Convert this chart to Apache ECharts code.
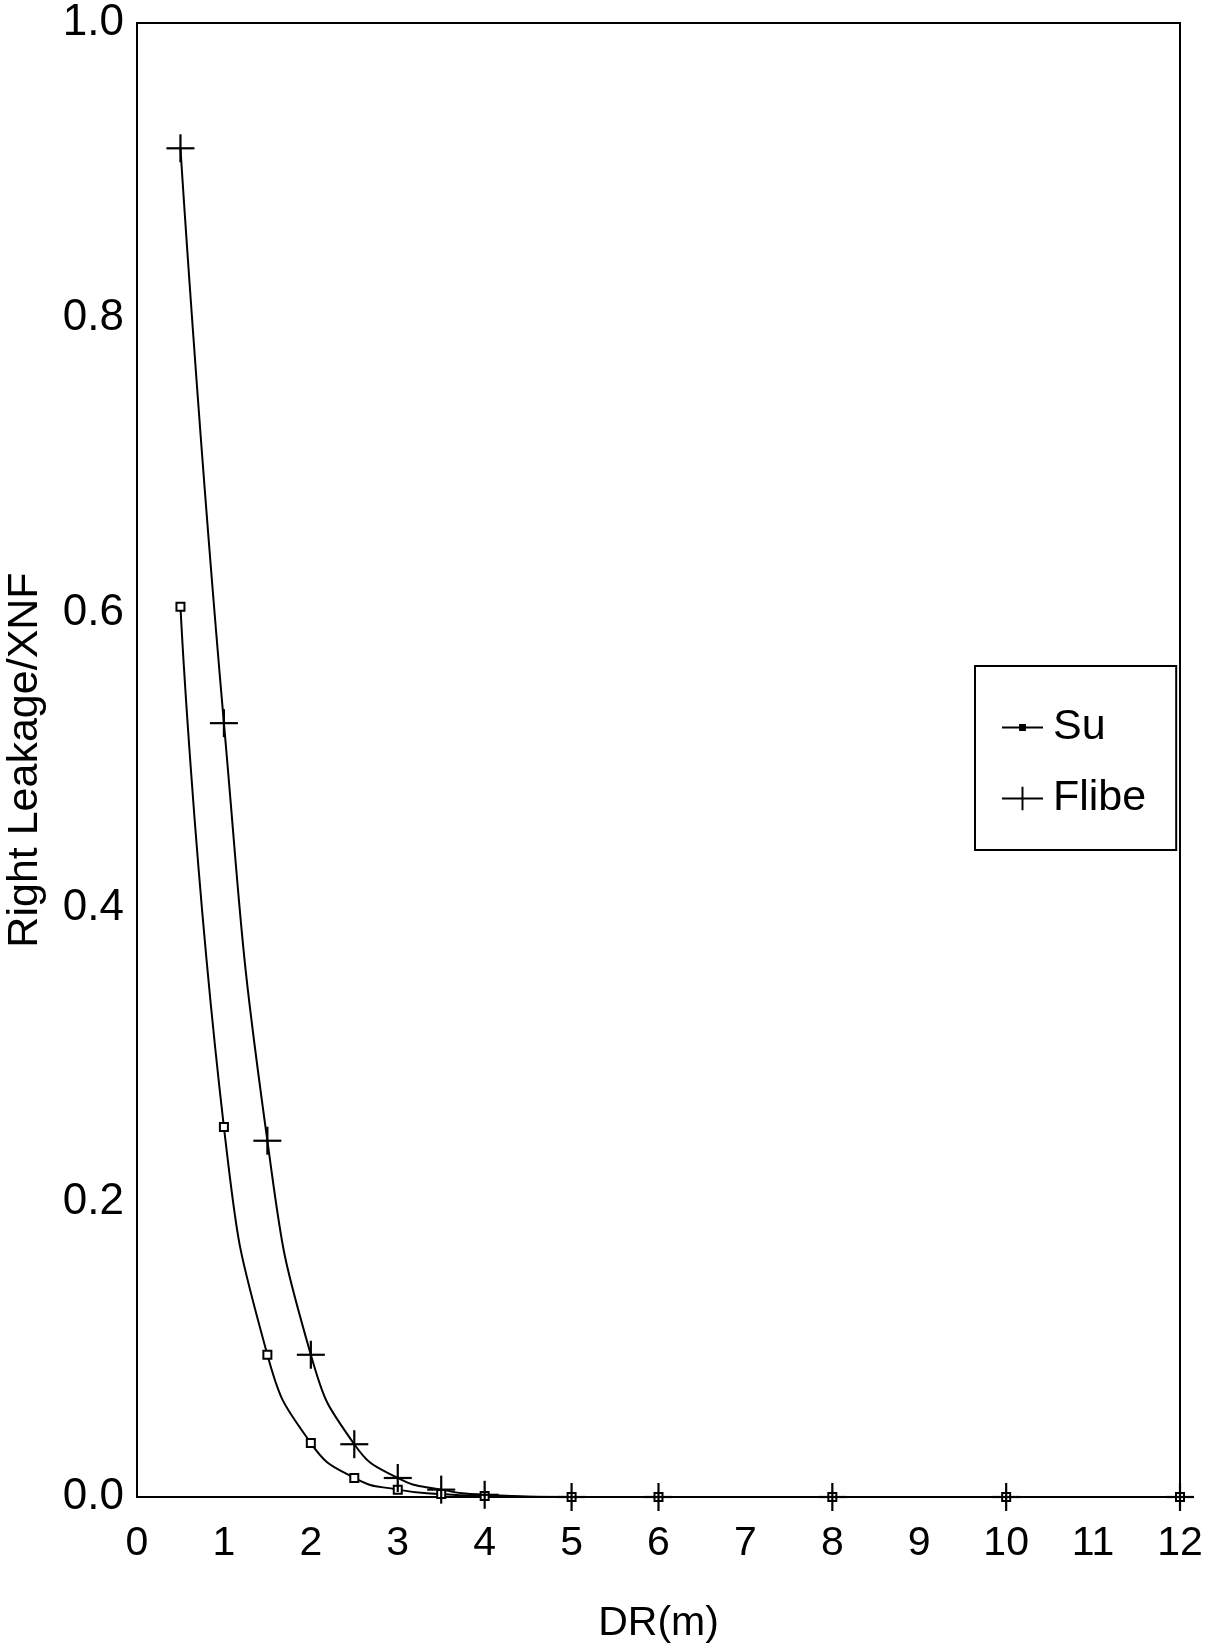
<!DOCTYPE html>
<html>
<head>
<meta charset="utf-8">
<script src="https://cdn.jsdelivr.net/npm/echarts@6/dist/echarts.min.js"></script>
<style>html,body{margin:0;padding:0;background:#fff;}#c{width:1222px;height:1652px;}</style>
</head>
<body>
<div id="c"></div>
<script>
var dr = [0.5, 1, 1.5, 2, 2.5, 3, 3.5, 4, 5, 6, 8, 10, 12];
var suValues = [0.604, 0.251, 0.0965, 0.0366, 0.0129, 0.005, 0.002, 0.0007, 0, 0, 0, 0, 0];
var flibeValues = [0.915, 0.525, 0.2417, 0.0965, 0.0358, 0.0129, 0.005, 0.0015, 0, 0, 0, 0, 0];
var xTicks = [0, 1, 2, 3, 4, 5, 6, 7, 8, 9, 10, 11, 12];
var yTicks = ['0.0', '0.2', '0.4', '0.6', '0.8', '1.0'];

function pairs(xs, ys) { return xs.map(function (x, i) { return [x, ys[i]]; }); }

var FONT = 'Liberation Sans';
var suIcon = 'path://M0,0 M42,28 M0,13 H42 V15 H0 Z M17.5,10.5 H24.5 V17.5 H17.5 Z';
var flibeIcon = 'path://M0,0 M42,28 M0,13 H42 V15 H0 Z M20,2 H22 V26 H20 Z';

function plusItem(params, api) {
  var p = api.coord([api.value(0), api.value(1)]);
  var h = 14;
  var st = { stroke: '#000', lineWidth: 2.2, fill: null };
  return {
    type: 'group',
    children: [
      { type: 'line', shape: { x1: p[0] - h, y1: p[1], x2: p[0] + h, y2: p[1] }, style: st, z2: 10 },
      { type: 'line', shape: { x1: p[0], y1: p[1] - h, x2: p[0], y2: p[1] + h }, style: st, z2: 10 }
    ]
  };
}

var chart = echarts.init(document.getElementById('c'));
chart.setOption({
  backgroundColor: '#fff',
  animation: false,
  grid: { left: 137, right: 42, top: 23, bottom: 155, outerBoundsMode: 'none', containLabel: false,
    show: true, borderColor: '#000', borderWidth: 2, backgroundColor: 'transparent' },
  xAxis: {
    type: 'value', min: 0, max: 12, interval: 1,
    name: 'DR(m)', nameLocation: 'middle', nameGap: 106,
    nameTextStyle: { fontFamily: FONT, fontSize: 41, color: '#000' },
    axisLine: { show: true, lineStyle: { color: '#000', width: 2 } },
    axisTick: { show: false }, splitLine: { show: false },
    axisLabel: { fontFamily: FONT, fontSize: 41, color: '#000', margin: 26,
      formatter: function (v) { return xTicks.indexOf(v) >= 0 ? String(v) : ''; } }
  },
  yAxis: {
    type: 'value', min: 0, max: 1, interval: 0.2,
    name: 'Right Leakage/XNF', nameLocation: 'middle', nameGap: 90, nameRotate: 90,
    nameTextStyle: { fontFamily: FONT, fontSize: 43, color: '#000' },
    axisLine: { show: true, lineStyle: { color: '#000', width: 2 } },
    axisTick: { show: false }, splitLine: { show: false },
    axisLabel: { fontFamily: FONT, fontSize: 44, color: '#000', margin: 13,
      formatter: function (v) { return yTicks[Math.round(v * 5)]; } }
  },
  legend: {
    orient: 'vertical', left: 975, top: 666,
    backgroundColor: '#fff', borderColor: '#000', borderWidth: 2,
    padding: [40, 30, 30, 27], itemGap: 28, itemWidth: 41, itemHeight: 28,
    textStyle: { fontFamily: FONT, fontSize: 43, color: '#000', padding: [0, 0, 0, 5] },
    data: [
      { name: 'Su', icon: suIcon, itemStyle: { color: '#000', borderWidth: 0 } },
      { name: 'Flibe', icon: flibeIcon, itemStyle: { color: '#000', borderWidth: 0 } }
    ]
  },
  series: [
    {
      name: 'Flibe', type: 'line', data: pairs(dr, flibeValues), smooth: 0.5, clip: false,
      showSymbol: false,
      lineStyle: { color: '#000', width: 2 },
      itemStyle: { color: '#000' }, z: 3
    },
    {
      name: 'Su', type: 'line', data: pairs(dr, suValues), smooth: 0.5, clip: false,
      symbol: 'emptyRect', symbolSize: 8, showAllSymbol: true,
      lineStyle: { color: '#000', width: 2 },
      itemStyle: { color: '#000', borderColor: '#000', borderWidth: 2 }, z: 4
    },
    {
      name: 'Flibe', type: 'custom', data: pairs(dr, flibeValues), clip: false,
      renderItem: plusItem, itemStyle: { color: '#000' }, z: 6
    }
  ]
});
</script>
</body>
</html>
